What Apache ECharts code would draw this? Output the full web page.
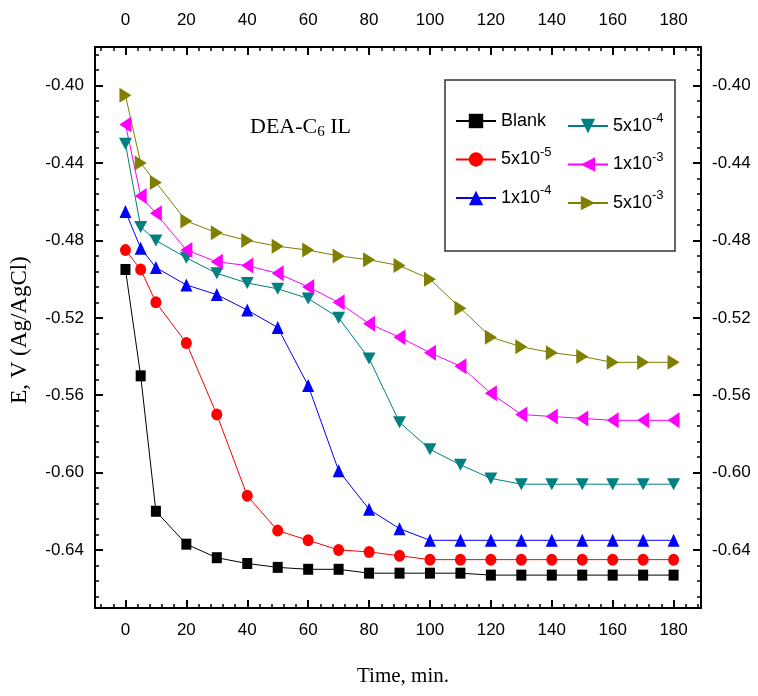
<!DOCTYPE html>
<html>
<head>
<meta charset="utf-8">
<script src="https://cdn.jsdelivr.net/npm/echarts@6/dist/echarts.min.js"></script>
<style>
  html, body { margin: 0; padding: 0; background: #fff; }
  #chart { width: 758px; height: 696px; }
</style>
</head>
<body>
<div id="chart"></div>
<script>
// Open-circuit potential vs. time for DEA-C6 IL at several concentrations
const times = [0, 5, 10, 20, 30, 40, 50, 60, 70, 80, 90, 100, 110, 120, 130, 140, 150, 160, 170, 180];

const blank   = [-0.495, -0.550, -0.620, -0.637, -0.644, -0.647, -0.649, -0.650, -0.650, -0.652,
                 -0.652, -0.652, -0.652, -0.653, -0.653, -0.653, -0.653, -0.653, -0.653, -0.653];
const c5e5    = [-0.485, -0.495, -0.512, -0.533, -0.570, -0.612, -0.630, -0.635, -0.640, -0.641,
                 -0.643, -0.645, -0.645, -0.645, -0.645, -0.645, -0.645, -0.645, -0.645, -0.645];
const c1e4    = [-0.465, -0.484, -0.494, -0.503, -0.508, -0.516, -0.525, -0.555, -0.599, -0.619,
                 -0.629, -0.635, -0.635, -0.635, -0.635, -0.635, -0.635, -0.635, -0.635, -0.635];
const c5e4    = [-0.430, -0.473, -0.480, -0.489, -0.497, -0.502, -0.505, -0.510, -0.520, -0.541,
                 -0.574, -0.588, -0.596, -0.603, -0.606, -0.606, -0.606, -0.606, -0.606, -0.606];
const c1e3    = [-0.420, -0.457, -0.466, -0.485, -0.491, -0.493, -0.497, -0.504, -0.512, -0.523,
                 -0.530, -0.538, -0.545, -0.559, -0.570, -0.571, -0.572, -0.573, -0.573, -0.573];
const c5e3    = [-0.405, -0.440, -0.450, -0.470, -0.476, -0.480, -0.483, -0.485, -0.488, -0.490,
                 -0.493, -0.500, -0.515, -0.530, -0.535, -0.538, -0.540, -0.543, -0.543, -0.543];

const seriesNames = ['Blank', '5x10-5', '1x10-4', '5x10-4', '1x10-3', '5x10-3'];
const legendRich = {
  'Blank':  '{t|Blank}',
  '5x10-5': '{t|5x10}{s|-5}',
  '1x10-4': '{t|1x10}{s|-4}',
  '5x10-4': '{t|5x10}{s|-4}',
  '1x10-3': '{t|1x10}{s|-3}',
  '5x10-3': '{t|5x10}{s|-3}'
};

const SANS = '"Liberation Sans", Arial, sans-serif';
const SERIF = '"Liberation Serif", "Times New Roman", serif';

function pairs(ys) { return times.map((t, i) => [t, ys[i]]); }

function lineSeries(name, ys, color, symbol, size, rotate) {
  return {
    name: name,
    type: 'line',
    data: pairs(ys),
    symbol: symbol,
    symbolSize: size,
    symbolRotate: rotate,
    showAllSymbol: true,
    lineStyle: { color: color, width: 1 },
    itemStyle: { color: color },
    emphasis: { disabled: true },
    animation: false,
    z: 3
  };
}

const xFmt = v => (Math.abs(v % 20) < 1e-9 ? String(v) : '');
const yFmt = v => {
  const k = Math.round(v / 0.04);
  return Math.abs(k * 0.04 - v) < 1e-7 ? v.toFixed(2) : '';
};

function xAxisCfg(pos) {
  return {
    type: 'value', position: pos, min: -10, max: 189,
    splitNumber: 10, minInterval: 20, maxInterval: 20,
    axisLine: { show: true, onZero: false, lineStyle: { color: '#000', width: 2 } },
    axisTick: { show: true, inside: true, length: 8, lineStyle: { color: '#000', width: 2 } },
    minorTick: { show: true, splitNumber: 5, length: 4, lineStyle: { color: '#000', width: 1.5 } },
    splitLine: { show: false },
    axisLabel: {
      show: true, formatter: xFmt, color: '#000', fontSize: 17, fontFamily: SANS,
      margin: pos === 'top' ? 18 : 14, showMinLabel: false, showMaxLabel: false
    }
  };
}
function yAxisCfg(pos) {
  return {
    type: 'value', position: pos, min: -0.67, max: -0.38,
    splitNumber: 8, minInterval: 0.04, maxInterval: 0.04,
    axisLine: { show: true, onZero: false, lineStyle: { color: '#000', width: 2 } },
    axisTick: { show: true, inside: true, length: 8, lineStyle: { color: '#000', width: 2 } },
    minorTick: { show: true, splitNumber: 5, length: 4, lineStyle: { color: '#000', width: 1.5 } },
    splitLine: { show: false },
    axisLabel: {
      show: true, formatter: yFmt, color: '#000', fontSize: 17, fontFamily: SANS,
      margin: 11, showMinLabel: false, showMaxLabel: false
    }
  };
}

const legendBase = {
  orient: 'vertical',
  itemWidth: 40,
  itemHeight: 18,
  itemGap: 15.5,
  padding: 0,
  selectedMode: false,
  formatter: name => legendRich[name],
  textStyle: {
    color: '#000',
    rich: {
      t: { fontSize: 18, fontFamily: SANS, lineHeight: 28, color: '#000' },
      s: { fontSize: 13, fontFamily: SANS, lineHeight: 13, verticalAlign: 'top', color: '#000' }
    }
  }
};

const chart = echarts.init(document.getElementById('chart'), null, { renderer: 'canvas' });
chart.setOption({
  backgroundColor: '#fff',
  animation: false,
  grid: { left: 95, right: 57, top: 47, bottom: 88, containLabel: false, outerBoundsMode: 'none' },
  xAxis: [xAxisCfg('bottom'), xAxisCfg('top')],
  yAxis: [yAxisCfg('left'), yAxisCfg('right')],
  legend: [
    Object.assign({}, legendBase, { left: 455, top: 112, data: seriesNames.slice(0, 3) }),
    Object.assign({}, legendBase, { left: 567, top: 112, data: seriesNames.slice(3) })
  ],
  graphic: [
    { type: 'rect', shape: { x: 445, y: 80, width: 230, height: 171 },
      style: { fill: 'none', stroke: '#333', lineWidth: 1.5 }, z: 1 },
    { type: 'text', x: 250, y: 127,
      style: { text: '{m|DEA-C}{b|6}{m| IL}', textVerticalAlign: 'middle',
        rich: {
          m: { fontFamily: SERIF, fontSize: 22, color: '#000', lineHeight: 26 },
          b: { fontFamily: SERIF, fontSize: 15, color: '#000', lineHeight: 12, verticalAlign: 'bottom' }
        } } },
    { type: 'text', x: 403, y: 676,
      style: { text: 'Time, min.', fontFamily: SERIF, fontSize: 21, fill: '#000',
        textAlign: 'center', textVerticalAlign: 'middle' } },
    { type: 'text', x: 20, y: 330, rotation: Math.PI / 2,
      style: { text: 'E, V (Ag/AgCl)', fontFamily: SERIF, fontSize: 23, fill: '#000',
        textAlign: 'center', textVerticalAlign: 'middle' } }
  ],
  series: [
    lineSeries(seriesNames[0], blank, '#000000', 'rect', [10, 11], 0),
    lineSeries(seriesNames[1], c5e5, '#ff0000', 'circle', [11, 12], 0),
    lineSeries(seriesNames[2], c1e4, '#0000ff', 'triangle', [12, 13], 0),
    lineSeries(seriesNames[3], c5e4, '#008080', 'triangle', [13, 12], 180),
    lineSeries(seriesNames[4], c1e3, '#ff00ff', 'triangle', [16, 12], 90),
    lineSeries(seriesNames[5], c5e3, '#808000', 'triangle', [15, 12], -90)
  ]
});
</script>
</body>
</html>
